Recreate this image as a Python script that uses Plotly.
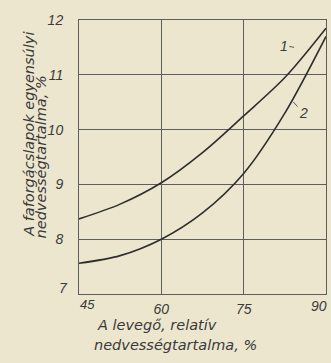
import plotly.graph_objects as go

# Data
rel_humidity = [45, 52.5, 60, 67.5, 75, 82.5, 90]
curve1 = [8.37, 8.64, 9.03, 9.58, 10.25, 10.95, 11.85]
curve2 = [7.56, 7.70, 8.00, 8.48, 9.20, 10.30, 11.70]
x_ticks = [60, 75]
y_ticks = [8, 9, 10, 11, 12]

PAPER = "#ede6cf"
INK = "#2e2e2e"
GRID = "#5e5e5e"
FONT = "Liberation Sans"
TFONT = "DejaVu Sans"

fig = go.Figure()
for ys in (curve1, curve2):
    fig.add_trace(go.Scatter(x=rel_humidity, y=ys, mode="lines",
                             line=dict(color=INK, width=1.6, shape="spline", smoothing=0.9),
                             showlegend=False, hoverinfo="skip"))

tickfont = dict(family=FONT, size=14, color="#3a3a3a", style="italic")

fig.update_layout(
    width=331, height=363,
    margin=dict(l=79, r=5, t=20, b=69),
    paper_bgcolor=PAPER, plot_bgcolor=PAPER,
    xaxis=dict(range=[45, 90], tickvals=x_ticks, showgrid=True, gridcolor=GRID, gridwidth=1,
               showline=True, linecolor=GRID, linewidth=1, mirror=True, zeroline=False,
               ticks="", tickfont=tickfont, ticklabelstandoff=2, automargin=False),
    yaxis=dict(range=[7, 12], tickvals=y_ticks, showgrid=True, gridcolor=GRID, gridwidth=1,
               showline=True, linecolor=GRID, linewidth=1, mirror=True, zeroline=False,
               ticks="", tickfont=tickfont, ticklabelstandoff=12, automargin=False),
)

titlefont = dict(family=TFONT, size=14.5, color="#3a3a3a", style="italic")
# corner tick labels (placed as in the reference)
fig.add_annotation(x=0.0, y=0.0, xref="paper", yref="paper", text="7", showarrow=False,
                   xanchor="right", yanchor="bottom", xshift=-9, yshift=-4, font=tickfont)
fig.add_annotation(x=0.0, y=0.0, xref="paper", yref="paper", text="45", showarrow=False,
                   xanchor="center", yanchor="top", xshift=8, yshift=-1, font=dict(tickfont, size=13))
fig.add_annotation(x=90, y=0.0, xref="x", yref="paper", text="90", showarrow=False,
                   xanchor="right", yanchor="top", xshift=3, yshift=-2, font=tickfont)
# x axis title (left aligned, two lines)
fig.add_annotation(x=0.065, y=-0.113, xref="paper", yref="paper", text="A levegő, relatív",
                   showarrow=False, xanchor="left", yanchor="middle", font=titlefont)
fig.add_annotation(x=0.053, y=-0.186, xref="paper", yref="paper", text="nedvességtartalma, %",
                   showarrow=False, xanchor="left", yanchor="middle", font=titlefont)
# y axis title (rotated, two lines)
fig.add_annotation(x=-0.203, y=0.584, xref="paper", yref="paper", text="A faforgácslapok egyensúlyi",
                   showarrow=False, textangle=-90, xanchor="center", yanchor="middle", font=titlefont)
fig.add_annotation(x=-0.152, y=0.50, xref="paper", yref="paper", text="nedvességtartalma, %",
                   showarrow=False, textangle=-90, xanchor="center", yanchor="middle", font=titlefont)
# curve labels
fig.add_annotation(x=86.7, y=11.46, text="1", showarrow=True, arrowhead=0, arrowwidth=0.8,
                   arrowcolor=INK, ax=-24, ay=-4, standoff=14,
                   font=dict(family=FONT, size=14, color="#3a3a3a", style="italic"))
fig.add_annotation(x=83.9, y=10.52, text="2", showarrow=True, arrowhead=0, arrowwidth=0.8,
                   arrowcolor=INK, ax=11, ay=12, standoff=1,
                   font=dict(family=FONT, size=14, color="#3a3a3a", style="italic"))

fig.write_html("out.html", config={"displayModeBar": False},
               post_script="document.body.style.margin='0';document.body.style.overflow='hidden';")
